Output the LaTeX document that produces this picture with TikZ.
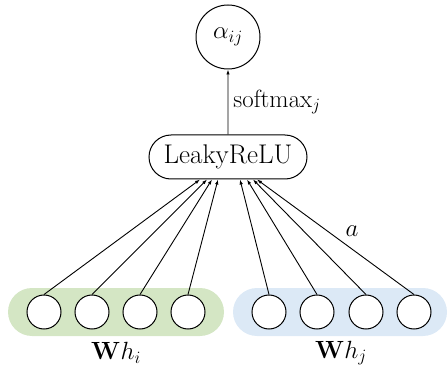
\documentclass[tikz,border=0pt]{standalone}
\usetikzlibrary{arrows.meta,shapes.misc,calc}
\definecolor{pillgreen}{RGB}{212,230,196}
\definecolor{pillblue}{RGB}{220,233,246}
\tikzset{
  unit/.style={circle,draw,line width=1pt,fill=white,minimum size=34pt,inner sep=0pt},
  attn/.style={circle,draw,line width=1pt,minimum size=64pt,inner sep=0pt,font=\fontsize{26}{30}\selectfont},
  actbox/.style={rounded rectangle,draw,line width=1pt,minimum width=158pt,minimum height=44pt,inner sep=0pt,font=\fontsize{27}{31}\selectfont},
  lbl/.style={inner sep=0pt,font=\fontsize{25}{29}\selectfont},
  feed/.style={line width=0.9pt,-{Latex[length=5pt,width=3.5pt]}},
  pill/.style={rounded corners=24pt}
}
\begin{document}
\begin{tikzpicture}[x=1pt,y=-1pt]
  \useasboundingbox (0,0) rectangle (448,369);
  % coloured bands behind the two feature vectors
  \fill[pillgreen,pill] (8,288) rectangle (224,336);
  \fill[pillblue,pill] (233,288) rectangle (447,336);

  \node[attn] (alpha) at (228,37) {$\alpha_{ij}$};
  \node[actbox] (act) at (228,157) {LeakyReLU};
  \draw[feed] (act) -- (alpha) node[midway,right=5pt,lbl] (sm) {$\mathrm{softmax}_j$};

  % units of Wh_i and Wh_j
  \foreach \i/\x in {1/44,2/92,3/140,4/188,5/269,6/317,7/366,8/414}
    \node[unit] (u\i) at (\x,312) {};

  % connectors into the activation
  \foreach \i/\dx in {1/-28,2/-21,3/-16,4/-10,5/12,6/19,7/25,8/29}
    \coordinate (t\i) at ($(act.south)+(\dx,0)$);
  \foreach \i in {1,...,8}
    \draw[feed] (u\i.north) -- (t\i);

  \node[lbl] (wa) at (352,231) {$a$};
  \node[lbl] (whi) at (116,353) {$\mathbf{W}h_i$};
  \node[lbl] (whj) at (341,353) {$\mathbf{W}h_j$};
\end{tikzpicture}
\end{document}
